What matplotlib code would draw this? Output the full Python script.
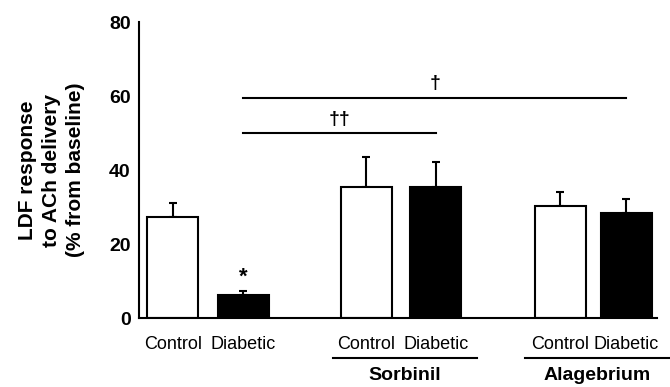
import numpy as np
import matplotlib
matplotlib.use('Agg')
import matplotlib.pyplot as plt

plt.rcParams['font.family'] = ['Liberation Sans', 'DejaVu Sans']

# data
labels = ['Control', 'Diabetic', 'Control', 'Diabetic', 'Control', 'Diabetic']
values = [27.2, 6.2, 35.5, 35.3, 30.2, 28.3]
errors = [4.0, 1.0, 8.0, 7.0, 4.0, 4.0]
fills = ['white', 'black', 'white', 'black', 'white', 'black']
groups = ['Sorbinil', 'Alagebrium']

# layout
xpos = np.array([0, 1.38, 3.8, 5.16, 7.6, 8.9])
width = 1.0

fig = plt.figure(figsize=(6.7, 3.87), dpi=100)
ax = fig.add_axes([0.2075, 0.178, 0.773, 0.765])

ax.bar(xpos, values, width=width, color=fills, edgecolor='black', linewidth=1.5, zorder=2)
ax.errorbar(xpos, values, yerr=[np.zeros(len(errors)), errors], fmt='none',
            ecolor='black', elinewidth=1.5, capsize=3, capthick=1.5, zorder=1)

ax.set_xlim(-0.66, 9.5)
ax.set_ylim(0, 80)
ax.set_yticks([0, 20, 40, 60, 80])
ax.set_xticks(xpos)
ax.set_xticklabels(labels, fontsize=13)
ax.tick_params(axis='x', length=0, pad=13)
ax.tick_params(axis='y', length=0, pad=6, labelsize=14)
for t in ax.get_yticklabels():
    t.set_fontweight('bold')

ax.spines['top'].set_visible(False)
ax.spines['right'].set_visible(False)
ax.spines['left'].set_linewidth(1.5)
ax.spines['bottom'].set_linewidth(1.5)

ax.set_ylabel('LDF response\nto ACh delivery\n(% from baseline)', fontsize=15,
              fontweight='bold', linespacing=1.35, labelpad=17)

# asterisk over diabetic
ax.text(xpos[1], values[1] + errors[1] + 1.0, '*', ha='center', va='bottom',
        fontsize=16, fontweight='bold')

# significance lines
ax.plot([xpos[1], xpos[5]], [59.5, 59.5], color='black', lw=1.5)
ax.text((xpos[1] + xpos[5]) / 2, 61, '\u2020', ha='center', va='bottom',
        fontsize=14, fontweight='bold')
ax.plot([xpos[1], xpos[3]], [50, 50], color='black', lw=1.5)
ax.text((xpos[1] + xpos[3]) / 2, 51.5, '\u2020\u2020', ha='center', va='bottom',
        fontsize=14, fontweight='bold')

# group labels under axis
trans = ax.get_xaxis_transform()
for i, g in enumerate(groups):
    c = (xpos[2 + 2 * i] + xpos[3 + 2 * i]) / 2 + 0.08
    ax.plot([c - 1.41, c + 1.41], [-0.135, -0.135], color='black', lw=1.5,
            transform=trans, clip_on=False)
    ax.text(c, -0.222, g, transform=trans, ha='center', va='bottom',
            fontsize=14, fontweight='bold')

fig.savefig('out.png', dpi=100)
